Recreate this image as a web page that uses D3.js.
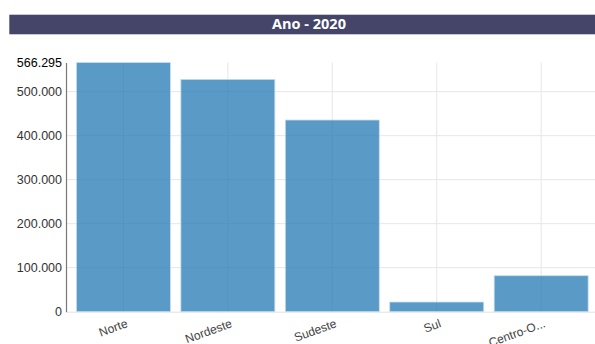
<!DOCTYPE html>
<html>
<head>
<meta charset="utf-8">
<script src="https://cdn.jsdelivr.net/npm/d3@7"></script>
<style>
  html, body { margin: 0; padding: 0; background: #fff; }
  svg { display: block; }
</style>
</head>
<body>
<svg id="chart" width="595" height="344"></svg>
<script>
// Regional totals for 2020
const categories = ["Norte", "Nordeste", "Sudeste", "Sul", "Centro-O..."];
const values = [566295, 528000, 435600, 22000, 81800];
const tickValues = [0, 100000, 200000, 300000, 400000, 500000];
const title = "Ano - 2020";

const svg = d3.select("#chart");
const W = 595, H = 344;
const margin = { top: 62.5, left: 66 };
const innerH = H - margin.top - 32.3;
const plotW = 532.6;          // band range (extends a little past the frame)
const gridW = W - margin.left; // grid lines run to the frame edge

const fmt = d3.formatLocale({ decimal: ",", thousands: ".", grouping: [3], currency: ["R$", ""] }).format(",d");

// Title banner
svg.append("rect")
  .attr("x", 9.3).attr("y", 14.7)
  .attr("width", W - 9.3 + 20).attr("height", 19.6)
  .attr("fill", "#45456a");
svg.append("text")
  .attr("x", 309).attr("y", 29.3)
  .attr("text-anchor", "middle")
  .attr("font-family", "'Open Sans', sans-serif")
  .attr("font-weight", "bold")
  .attr("font-size", "14.5px")
  .attr("fill", "#fff")
  .text(title);

const maxVal = d3.max(values);
const x = d3.scaleBand().domain(categories).range([0, plotW]).paddingInner(0.1).paddingOuter(0.1);
const y = d3.scaleLinear().domain([0, maxVal]).range([innerH, 0]);

const g = svg.append("g").attr("transform", `translate(${margin.left},${margin.top})`);

// Grid
g.append("g").selectAll("line.h").data(tickValues.filter(d => d > 0)).join("line")
  .attr("x1", 0).attr("x2", gridW)
  .attr("y1", d => y(d)).attr("y2", d => y(d))
  .attr("stroke", "#e6e6e6").attr("stroke-width", 1);
g.append("g").selectAll("line.v").data(categories).join("line")
  .attr("x1", d => x(d) + x.bandwidth() / 2).attr("x2", d => x(d) + x.bandwidth() / 2)
  .attr("y1", 0).attr("y2", innerH)
  .attr("stroke", "#e6e6e6").attr("stroke-width", 1);

// Baseline
g.append("line")
  .attr("x1", 0).attr("x2", gridW)
  .attr("y1", innerH + 0.5).attr("y2", innerH + 0.5)
  .attr("stroke", "#e3e3e3");

// Bars
g.append("g").selectAll("rect").data(categories).join("rect")
  .attr("x", d => x(d))
  .attr("y", (d, i) => y(values[i]))
  .attr("width", x.bandwidth())
  .attr("height", (d, i) => innerH - y(values[i]))
  .attr("fill", "#1f77b4")
  .attr("fill-opacity", 0.74)
  .attr("stroke", "#c9def0")
  .attr("stroke-width", 0.8);

// Y axis
const yAxis = d3.axisLeft(y).tickValues(tickValues).tickSize(0).tickPadding(4).tickFormat(fmt);
const ya = g.append("g").call(yAxis);
ya.select(".domain").attr("stroke", "#777").attr("stroke-width", 1.2);
ya.selectAll("text")
  .attr("font-family", "Arial, 'Liberation Sans', sans-serif")
  .attr("font-size", "12.5px")
  .attr("fill", "#333");
// Maximum label
ya.append("text")
  .attr("x", -4).attr("y", y(maxVal)).attr("dy", "0.32em")
  .attr("text-anchor", "end")
  .attr("font-family", "Arial, 'Liberation Sans', sans-serif")
  .attr("font-size", "12.5px")
  .attr("fill", "#000")
  .text(fmt(maxVal));

// X labels
g.append("g").selectAll("text").data(categories).join("text")
  .attr("transform", d => `translate(${x(d) + x.bandwidth() / 2 + 5},${innerH + 15}) rotate(-20)`)
  .attr("text-anchor", "end")
  .attr("font-family", "Arial, 'Liberation Sans', sans-serif")
  .attr("font-size", "12px")
  .attr("fill", "#444")
  .text(d => d);
</script>
</body>
</html>
